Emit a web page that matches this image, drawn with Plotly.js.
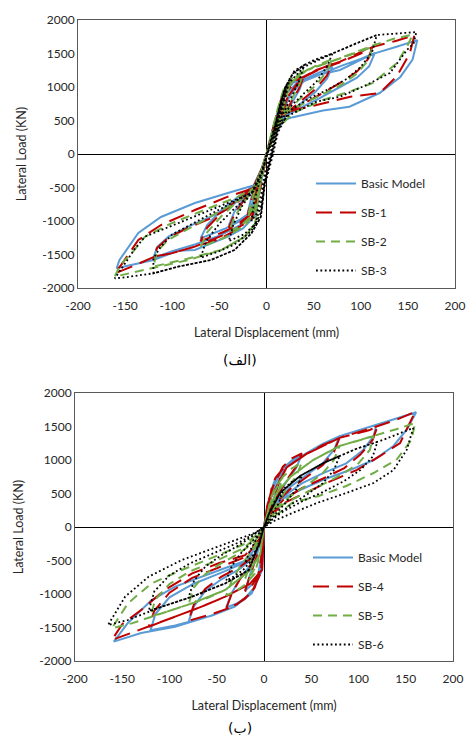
<!DOCTYPE html>
<html>
<head>
<meta charset="utf-8">
<script src="https://cdn.plot.ly/plotly-3.0.1.min.js"></script>
<style>html,body{margin:0;padding:0;background:#fff;}#chart{width:467px;height:740px;}</style>
</head>
<body>
<div id="chart"></div>
<script>
// ---------- Data (displacement mm, load kN) ----------
const seriesNamesTop = ['Basic Model', 'SB-1', 'SB-2', 'SB-3'];
const seriesNamesBottom = ['Basic Model', 'SB-4', 'SB-5', 'SB-6'];
const xTicks = [-200, -150, -100, -50, 0, 50, 100, 150, 200];
const yTicks = [-2000, -1500, -1000, -500, 0, 500, 1000, 1500, 2000];

const topBasic = [
 [0,0],[5,260],[10,520],[15,760],[20,950],[16,760],[9,420],[0,0],[-5,-260],[-10,-520],[-15,-730],[-20,-880],[-16,-650],[-8,-330],[0,0],
 [6,330],[12,640],[18,900],[28,1060],[40,1150],[35,960],[26,740],[16,520],[7,260],[0,0],[-6,-340],[-11,-650],[-18,-880],[-28,-980],[-40,-1060],[-34,-860],[-24,-660],[-13,-470],[-5,-210],[0,0],
 [7,320],[14,620],[20,880],[32,1060],[50,1180],[70,1300],[64,1120],[52,930],[36,750],[20,570],[10,330],[0,0],[-7,-400],[-12,-760],[-22,-960],[-45,-1120],[-70,-1260],[-63,-1060],[-48,-840],[-30,-640],[-14,-480],[-5,-210],[0,0],
 [8,320],[16,600],[24,880],[40,1090],[60,1210],[80,1320],[100,1420],[115,1510],[109,1310],[96,1140],[78,1000],[56,830],[36,690],[20,560],[10,330],[0,0],[-7,-420],[-13,-800],[-28,-1060],[-50,-1220],[-76,-1350],[-100,-1450],[-120,-1550],[-116,-1390],[-104,-1234],[-83,-1085],[-59,-935],[-34,-740],[-14,-490],[-5,-210],[0,0],
 [8,300],[16,560],[24,850],[36,1090],[58,1190],[78,1254],[96,1380],[113,1495],[138,1600],[160,1700],[155,1410],[142,1150],[120,910],[100,780],[88,705],[60,650],[28,550],[17,500],[8,280],[0,0],[-6,-450],[-13,-935],[-25,-1110],[-41,-1234],[-76,-1433],[-94,-1445],[-120,-1582],[-140,-1640],[-159,-1706],[-156,-1582],[-146,-1380],[-136,-1179],[-112,-940],[-76,-731],[-41,-582],[-12,-463],[-4,-200],[0,0]
];
const topSB1 = [
 [0,0],[5,270],[10,540],[15,790],[20,980],[16,780],[9,430],[0,0],[-5,-270],[-10,-540],[-15,-760],[-20,-910],[-16,-680],[-8,-350],[0,0],
 [6,340],[12,660],[18,930],[28,1090],[40,1180],[35,990],[26,770],[16,540],[7,270],[0,0],[-6,-360],[-11,-680],[-18,-910],[-28,-1020],[-40,-1100],[-34,-900],[-24,-690],[-13,-490],[-5,-220],[0,0],
 [7,330],[14,640],[20,910],[32,1100],[50,1230],[70,1350],[64,1170],[52,970],[36,790],[20,600],[10,350],[0,0],[-7,-420],[-12,-790],[-22,-1000],[-45,-1160],[-70,-1300],[-63,-1100],[-48,-880],[-30,-670],[-14,-500],[-5,-220],[0,0],
 [8,330],[16,620],[24,900],[40,1140],[53,1254],[78,1378],[100,1520],[113,1627],[108,1420],[96,1230],[78,1060],[56,880],[36,730],[20,600],[10,350],[0,0],[-7,-440],[-13,-830],[-28,-1100],[-50,-1270],[-76,-1383],[-101,-1483],[-120,-1532],[-116,-1400],[-104,-1250],[-83,-1100],[-59,-960],[-34,-760],[-14,-500],[-5,-220],[0,0],
 [8,310],[16,580],[24,880],[36,1120],[53,1240],[78,1370],[100,1500],[113,1600],[138,1690],[157,1776],[152,1500],[138,1154],[120,910],[89,855],[60,756],[31,657],[17,610],[8,300],[0,0],[-6,-480],[-16,-985],[-41,-1184],[-76,-1383],[-101,-1483],[-120,-1540],[-143,-1682],[-161,-1781],[-153,-1632],[-136,-1284],[-112,-1060],[-76,-836],[-41,-637],[-14,-512],[-4,-220],[0,0]
];
const topSB2 = [
 [0,0],[5,280],[10,560],[15,820],[20,1000],[16,800],[9,450],[0,0],[-5,-280],[-10,-560],[-15,-790],[-20,-950],[-16,-700],[-8,-360],[0,0],
 [6,350],[12,680],[18,960],[28,1140],[40,1240],[35,1040],[26,800],[16,560],[7,280],[0,0],[-6,-370],[-11,-700],[-18,-950],[-28,-1080],[-40,-1160],[-34,-940],[-24,-720],[-13,-510],[-5,-230],[0,0],
 [7,340],[14,660],[20,940],[32,1160],[50,1300],[70,1420],[64,1230],[52,1020],[36,830],[20,620],[10,360],[0,0],[-7,-440],[-12,-830],[-22,-1060],[-45,-1250],[-70,-1390],[-63,-1170],[-48,-930],[-30,-700],[-14,-520],[-5,-230],[0,0],
 [8,340],[16,640],[25,1050],[43,1254],[78,1430],[100,1540],[113,1600],[108,1400],[96,1200],[78,1020],[56,870],[36,730],[20,610],[10,360],[0,0],[-7,-460],[-12,-1035],[-23,-1234],[-48,-1433],[-83,-1560],[-120,-1680],[-116,-1450],[-104,-1280],[-83,-1120],[-59,-930],[-30,-700],[-14,-530],[-5,-230],[0,0],
 [8,320],[16,600],[25,1050],[43,1254],[78,1430],[113,1620],[135,1720],[152,1780],[155,1780],[149,1600],[138,1353],[113,1060],[89,935],[60,806],[28,610],[12,380],[0,0],[-7,-480],[-12,-1035],[-23,-1234],[-48,-1433],[-83,-1582],[-120,-1700],[-147,-1781],[-161,-1830],[-155,-1650],[-143,-1483],[-129,-1234],[-101,-1035],[-66,-836],[-30,-637],[-12,-500],[-4,-230],[0,0]
];
const topSB3 = [
 [0,0],[6,280],[12,580],[17,850],[22,1050],[18,820],[11,450],[4,0],[-2,-300],[-6,-620],[-10,-880],[-16,-1000],[-13,-700],[-6,-350],[1,0],
 [8,360],[14,720],[20,1000],[28,1200],[40,1330],[35,1100],[26,850],[17,580],[9,280],[5,0],[-2,-380],[-6,-760],[-12,-1050],[-24,-1200],[-40,-1300],[-35,-1050],[-26,-780],[-15,-560],[-6,-280],[1,0],
 [8,340],[14,700],[20,1000],[30,1250],[50,1400],[70,1500],[64,1300],[53,1080],[38,880],[22,660],[11,340],[5,0],[-2,-420],[-6,-880],[-16,-1150],[-34,-1350],[-50,-1450],[-70,-1550],[-64,-1300],[-50,-1040],[-33,-800],[-16,-600],[-6,-300],[1,0],
 [9,330],[16,700],[23,1050],[40,1300],[70,1500],[95,1650],[117,1776],[112,1520],[100,1300],[85,1120],[65,960],[45,830],[25,650],[12,350],[6,0],[-2,-450],[-6,-940],[-16,-1184],[-34,-1433],[-59,-1582],[-94,-1682],[-120,-1781],[-120,-1560],[-113,-1400],[-100,-1200],[-80,-1050],[-55,-860],[-30,-680],[-14,-560],[-5,-280],[1,0],
 [9,320],[17,650],[25,1150],[40,1330],[70,1500],[117,1776],[140,1800],[159,1820],[156,1650],[149,1552],[131,1209],[106,1030],[78,855],[53,781],[21,557],[12,320],[7,0],[-2,-480],[-6,-940],[-16,-1184],[-34,-1433],[-59,-1582],[-94,-1682],[-120,-1781],[-150,-1840],[-161,-1856],[-150,-1632],[-140,-1420],[-129,-1234],[-94,-1035],[-51,-786],[-16,-587],[-5,-300],[0,0]
];

const botBasic = [
 [0,0],[4,300],[8,560],[12,720],[20,850],[15,620],[7,300],[0,0],[-3,-450],[-6,-700],[-12,-850],[-20,-950],[-15,-720],[-8,-450],[0,0],
 [4,358],[10,600],[20,880],[30,1000],[40,1080],[34,880],[24,680],[14,450],[5,180],[0,0],[-3,-600],[-10,-900],[-20,-1060],[-30,-1150],[-40,-1200],[-34,-980],[-25,-760],[-14,-560],[-5,-250],[0,0],
 [4,358],[13,612],[24,910],[45,1104],[62,1240],[80,1357],[74,1150],[62,950],[45,780],[28,600],[14,400],[5,160],[0,0],[-2,-642],[-13,-990],[-31,-1189],[-55,-1320],[-80,-1420],[-74,-1180],[-62,-950],[-45,-780],[-25,-620],[-12,-470],[-4,-200],[0,0],
 [4,358],[13,612],[24,910],[45,1104],[80,1357],[119,1527],[116,1357],[105,1150],[87,950],[62,800],[40,650],[20,450],[6,180],[0,0],[-2,-642],[-13,-990],[-31,-1189],[-59,-1338],[-94,-1470],[-120,-1540],[-115,-1300],[-100,-1050],[-75,-850],[-45,-680],[-20,-530],[-5,-220],[0,0],
 [4,358],[13,612],[24,910],[45,1104],[80,1357],[119,1527],[140,1620],[161,1712],[151,1452],[137,1209],[116,1000],[91,850],[62,701],[38,552],[17,403],[5,150],[0,0],[-2,-642],[-13,-990],[-31,-1189],[-59,-1338],[-94,-1488],[-130,-1582],[-159,-1711],[-144,-1433],[-119,-1090],[-94,-890],[-66,-741],[-41,-612],[-17,-493],[-5,-200],[0,0]
];
const botSB4 = [
 [0,0],[4,310],[8,570],[12,730],[20,870],[15,630],[7,300],[0,0],[-3,-460],[-6,-710],[-12,-860],[-20,-960],[-15,-730],[-8,-450],[0,0],
 [4,360],[10,620],[20,900],[30,1030],[40,1100],[34,900],[24,700],[14,460],[5,180],[0,0],[-3,-610],[-10,-910],[-20,-1070],[-30,-1160],[-40,-1220],[-34,-990],[-25,-770],[-14,-560],[-5,-250],[0,0],
 [4,350],[13,600],[24,890],[45,1090],[62,1220],[80,1330],[74,1120],[62,920],[45,750],[28,570],[14,380],[5,150],[0,0],[-2,-640],[-13,-980],[-31,-1180],[-55,-1300],[-80,-1400],[-74,-1150],[-62,-920],[-45,-740],[-25,-590],[-12,-450],[-4,-190],[0,0],
 [4,350],[13,600],[24,890],[45,1090],[80,1330],[112,1448],[120,1500],[115,1300],[102,1080],[85,880],[62,720],[40,580],[20,400],[6,160],[0,0],[-2,-640],[-15,-850],[-41,-1040],[-66,-1189],[-94,-1338],[-122,-1488],[-116,-1250],[-100,-980],[-76,-760],[-48,-600],[-20,-450],[-5,-200],[0,0],
 [4,350],[13,600],[24,890],[45,1090],[80,1330],[119,1500],[140,1600],[160,1720],[144,1254],[123,1060],[98,850],[66,657],[42,500],[20,350],[6,140],[0,0],[-2,-640],[-15,-850],[-41,-1040],[-66,-1189],[-94,-1338],[-122,-1488],[-147,-1612],[-161,-1687],[-150,-1450],[-130,-1239],[-105,-940],[-76,-692],[-48,-542],[-20,-420],[-5,-180],[0,0]
];
const botSB5 = [
 [0,0],[4,250],[8,460],[13,620],[20,740],[15,520],[7,240],[0,0],[-3,-300],[-7,-540],[-13,-700],[-20,-780],[-15,-560],[-8,-300],[0,0],
 [5,280],[10,500],[20,750],[30,880],[40,960],[34,760],[24,560],[14,360],[5,140],[0,0],[-4,-400],[-10,-700],[-20,-860],[-30,-960],[-40,-1020],[-34,-800],[-25,-580],[-14,-380],[-5,-160],[0,0],
 [5,280],[14,520],[28,750],[52,1000],[80,1209],[74,1000],[62,800],[45,620],[28,460],[12,280],[4,100],[0,0],[-4,-400],[-15,-650],[-41,-940],[-60,-1060],[-80,-1160],[-74,-900],[-62,-700],[-45,-540],[-25,-380],[-10,-220],[0,0],
 [5,280],[14,520],[28,750],[52,1000],[80,1209],[116,1357],[112,1150],[100,950],[82,780],[60,620],[38,470],[18,320],[5,120],[0,0],[-4,-400],[-15,-650],[-41,-940],[-76,-1139],[-108,-1289],[-120,-1330],[-115,-1080],[-100,-850],[-78,-660],[-50,-500],[-22,-320],[-6,-130],[0,0],
 [5,280],[14,520],[28,750],[52,1000],[80,1209],[116,1357],[140,1460],[160,1552],[156,1300],[140,1000],[116,806],[87,612],[58,463],[30,363],[10,150],[0,0],[-4,-400],[-15,-650],[-41,-940],[-76,-1139],[-108,-1289],[-140,-1438],[-161,-1512],[-144,-1139],[-119,-841],[-87,-642],[-52,-443],[-20,-250],[-5,-90],[0,0]
];
const botSB6 = [
 [0,0],[4,160],[8,300],[13,420],[20,520],[15,340],[7,150],[0,0],[-4,-180],[-8,-340],[-14,-460],[-20,-540],[-15,-360],[-8,-180],[0,0],
 [5,190],[10,360],[20,560],[30,680],[40,760],[34,560],[24,380],[14,230],[5,80],[0,0],[-5,-240],[-12,-480],[-22,-640],[-32,-740],[-40,-800],[-34,-580],[-25,-400],[-14,-240],[-5,-80],[0,0],
 [5,190],[17,507],[38,761],[63,955],[80,1060],[74,850],[62,650],[45,480],[28,330],[12,160],[4,50],[0,0],[-5,-250],[-16,-642],[-41,-841],[-62,-960],[-80,-1060],[-74,-800],[-62,-590],[-45,-420],[-25,-260],[-10,-110],[0,0],
 [5,190],[17,507],[38,761],[63,955],[98,1168],[120,1270],[115,1050],[102,850],[84,680],[62,520],[40,380],[20,230],[6,80],[0,0],[-5,-250],[-16,-642],[-41,-841],[-76,-1040],[-108,-1189],[-122,-1250],[-116,-960],[-100,-720],[-78,-540],[-52,-380],[-25,-220],[-8,-80],[0,0],
 [5,190],[17,507],[38,761],[63,955],[98,1168],[126,1300],[158,1478],[151,1150],[137,850],[116,657],[87,507],[56,358],[30,209],[12,100],[0,0],[-5,-250],[-16,-642],[-41,-841],[-76,-1040],[-108,-1189],[-144,-1388],[-165,-1463],[-147,-1040],[-122,-741],[-87,-493],[-48,-294],[-10,-90],[0,0]
];

// ---------- Styles ----------
const styles = [
  {color:'#5B9BD5', width:2, dash:'solid'},
  {color:'#C00000', width:2, dash:'16px,8px'},
  {color:'#70AD47', width:2, dash:'9px,6px'},
  {color:'#000000', width:1.8, dash:'1.8px,2.6px'}
];

function mk(data, name, st, xa, ya, leg, grp) {
  return {
    type:'scatter', mode:'lines', name:name,
    x:data.map(p=>p[0]), y:data.map(p=>p[1]),
    xaxis:xa, yaxis:ya, legend:leg, legendgroup:grp,
    line:{color:st.color, width:st.width, dash:st.dash},
    hoverinfo:'skip'
  };
}

const topData = [topBasic, topSB1, topSB2, topSB3];
const botData = [botBasic, botSB4, botSB5, botSB6];
const traces = [];
topData.forEach((d,i)=>traces.push(mk(d, seriesNamesTop[i], styles[i], 'x', 'y', 'legend', 't'+i)));
botData.forEach((d,i)=>traces.push(mk(d, seriesNamesBottom[i], styles[i], 'x2', 'y2', 'legend2', 'b'+i)));

const W = 467, H = 740;
const fontFam = 'Lato, "Open Sans", sans-serif';
function xAxis(dom, anchor) {
  return {
    domain:dom, anchor:anchor, range:[-200,200], tickvals:xTicks, ticktext:xTicks.map(String),
    showgrid:false, zeroline:true, zerolinecolor:'#000', zerolinewidth:1,
    showline:true, mirror:true, linecolor:'#595959', linewidth:1, ticks:'',
    ticklabelstandoff:7,
    tickfont:{family:fontFam, size:12, color:'#262626'},
    title:{text:'Lateral Displacement (mm)', font:{family:fontFam, size:12.5, color:'#262626'}, standoff:15},
    fixedrange:true
  };
}
function yAxis(dom, anchor) {
  return {
    domain:dom, anchor:anchor, range:[-2000,2000], tickvals:yTicks, ticktext:yTicks.map(String),
    showgrid:false, zeroline:true, zerolinecolor:'#000', zerolinewidth:1,
    showline:true, mirror:true, linecolor:'#595959', linewidth:1, ticks:'',
    tickfont:{family:fontFam, size:12, color:'#262626'},
    title:{text:'Lateral Load (KN)', font:{family:fontFam, size:12.5, color:'#262626'}, standoff:12},
    fixedrange:true
  };
}

const legendBase = {
  bgcolor:'rgba(255,255,255,0)', borderwidth:0, font:{family:fontFam, size:12, color:'#262626'},
  xanchor:'left', yanchor:'top', tracegroupgap:10, itemwidth:40
};

const layout = {
  width:W, height:H, margin:{l:0,r:0,t:0,b:0},
  paper_bgcolor:'#fff', plot_bgcolor:'#fff', showlegend:true,
  font:{family:fontFam, size:12, color:'#262626'},
  xaxis: xAxis([78/W, 455/W], 'y'),
  yaxis: yAxis([1-288/H, 1-20/H], 'x'),
  xaxis2: xAxis([75/W, 453/W], 'y2'),
  yaxis2: yAxis([1-661/H, 1-393/H], 'x2'),
  legend: Object.assign({}, legendBase, {x:311/W, y:1-169/H}),
  legend2: Object.assign({}, legendBase, {x:308/W, y:1-543/H}),
  annotations:[
    {text:'(الف)', xref:'paper', yref:'paper', x:240/W, y:1-360/H, xanchor:'center', yanchor:'middle', showarrow:false, font:{family:'DejaVu Sans', size:14, color:'#000'}},
    {text:'(ب)', xref:'paper', yref:'paper', x:240/W, y:1-728/H, xanchor:'center', yanchor:'middle', showarrow:false, font:{family:'DejaVu Sans', size:14, color:'#000'}}
  ]
};

Plotly.newPlot('chart', traces, layout, {staticPlot:true, displayModeBar:false});
</script>
</body>
</html>
